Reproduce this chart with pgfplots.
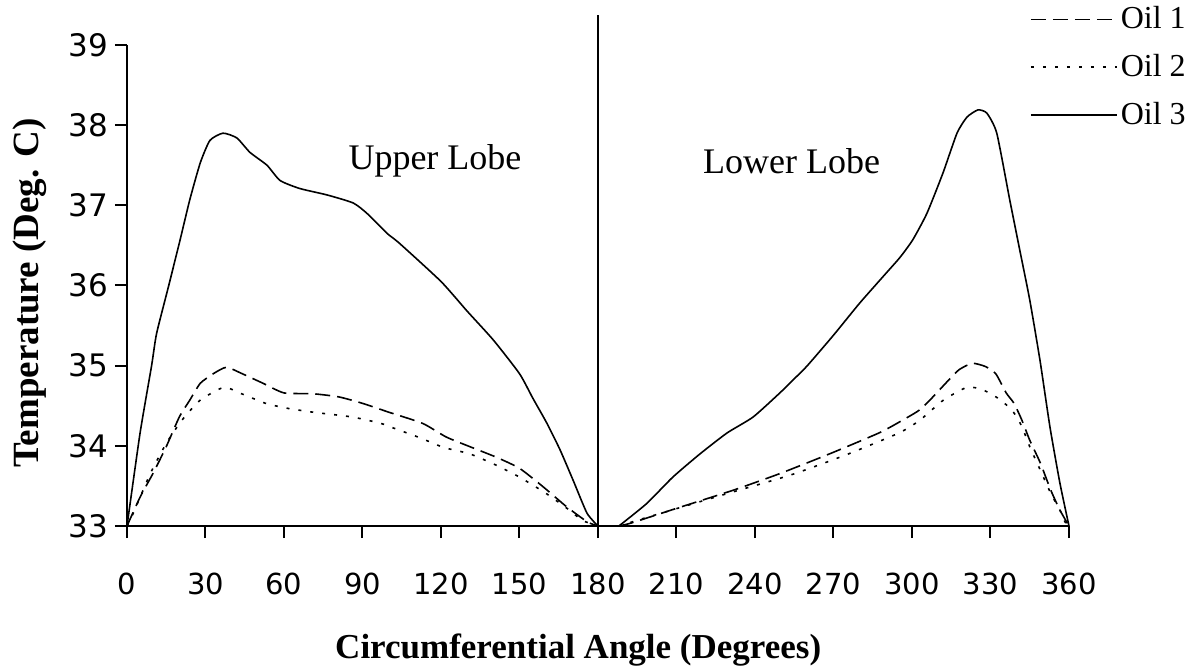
\documentclass[border=0pt]{standalone}
\usepackage{fontspec}
\setmainfont{Liberation Serif}
\newfontfamily\tickfont{DejaVu Sans}
\usepackage{pgfplots}
\pgfplotsset{compat=1.18}
\begin{document}
\begin{tikzpicture}
\begin{axis}[
  at={(0pt,0pt)}, anchor=south west,
  scale only axis, width=471pt, height=240.5pt,
  xmin=0, xmax=360, ymin=33, ymax=39,
  clip=false,
  /pgf/number format/assume math mode=true,
  axis x line*=bottom, axis y line*=left,
  axis line style={-, line width=1pt, black},
  xtick={0,30,...,360}, ytick={33,34,...,39},
  tick align=outside, major tick length=6pt,
  tick style={black, line width=1pt},
  yticklabel style={font=\tickfont\fontsize{15.5}{16}\selectfont, anchor=east},
  xticklabel style={font=\tickfont\fontsize{14.5}{16}\selectfont, anchor=north, yshift=-14pt},
  every axis y label/.style={at={(axis description cs:-0.103,0.485)}, rotate=90, anchor=center},
  every axis x label/.style={at={(axis description cs:0.479,-0.258)}, anchor=center},
  xlabel={\fontsize{17.5}{20}\selectfont\bfseries Circumferential Angle (Degrees)},
  ylabel={\fontsize{18.5}{20}\selectfont\bfseries Temperature (Deg. C)},
  legend style={draw=none, fill=none, at={(axis description cs:0.952,1.095)}, anchor=north west,
    font=\fontsize{16}{18}\selectfont, row sep=8.3pt, column sep=0pt,
    nodes={inner sep=1.5pt}},
  legend cell align=left,
  legend image code/.code={\draw[#1] (0pt,0pt) -- (43pt,0pt);},
  oilA/.style={black, line width=0.8pt, dash pattern=on 7.5pt off 3.5pt, smooth, tension=0.35},
  oilB/.style={black, line width=0.8pt, dash pattern=on 1.5pt off 4.5pt, smooth, tension=0.35},
  oilC/.style={black, line width=0.8pt, smooth, tension=0.35},
]
% Oil 1
\addplot[oilA] coordinates {
(0,33) (5,33.36) (10,33.66) (15,33.99) (20,34.36) (24,34.57) (28,34.78) (33,34.9) (38,34.98) (44,34.9) (52,34.78) (60,34.66) (71,34.65) (81,34.61) (90,34.53) (100,34.42) (113,34.28) (122,34.11) (131,33.99) (141,33.86) (150,33.72) (159,33.49) (168,33.24) (176,33.05) (180,33)
};
\addlegendentry{Oil 1}
% Oil 2
\addplot[oilB] coordinates {
(0,33) (2.4,33.16) (9,33.66) (15,34.03) (21,34.32) (28,34.57) (37,34.73) (43,34.66) (53,34.53) (61,34.47) (71,34.42) (86,34.36) (97,34.28) (102,34.22) (112,34.1) (121,33.98) (131,33.9) (141,33.76) (150,33.61) (160,33.41) (169,33.2) (174,33.07) (180,33)
};
\addlegendentry{Oil 2}
% Oil 3
\addplot[oilC] coordinates {
(0,33) (5,34.16) (9.4,35.0) (11.3,35.4) (15.8,35.98) (20.3,36.57) (24,37.07) (28,37.53) (31.7,37.81) (36.7,37.9) (42,37.84) (47,37.66) (53.5,37.5) (58.5,37.31) (66,37.21) (76.4,37.13) (86.4,37.03) (91.7,36.9) (99.4,36.65) (104,36.53) (120,36.05) (130,35.68) (140,35.32) (150,34.9) (155,34.6) (160.5,34.28) (165.5,33.95) (170.5,33.57) (175.8,33.16) (180,33)
};
\addlegendentry{Oil 3}
% lower lobe
\addplot[oilA, forget plot] coordinates {
(188,33) (193,33.04) (210,33.22) (232,33.45) (250,33.66) (270,33.92) (288,34.17) (298,34.35) (303,34.45) (308,34.61) (314,34.82) (318,34.95) (323,35.03) (328,34.99) (332,34.9) (336,34.66) (339,34.53) (342,34.32) (345,34.07) (349,33.79) (353,33.45) (356.5,33.2) (360,33)
};
\addplot[oilB, forget plot] coordinates {
(188,33) (199,33.11) (230,33.41) (254,33.64) (275,33.89) (295,34.16) (303,34.32) (312,34.57) (321,34.73) (327,34.7) (334,34.57) (339,34.41) (342,34.24) (345,33.99) (349,33.7) (353,33.41) (356.5,33.2) (358.5,33.05) (360,33)
};
\addplot[oilC, forget plot] coordinates {
(188,33) (198.6,33.28) (208.6,33.61) (219,33.9) (229.3,34.16) (239.3,34.36) (249.5,34.66) (254.5,34.82) (260,35.0) (270,35.38) (280,35.78) (290,36.15) (295.4,36.35) (300.3,36.57) (305.7,36.9) (311.8,37.4) (317.2,37.9) (321,38.1) (325.2,38.19) (328.6,38.15) (332.4,37.9) (337.4,37.06) (341.2,36.44) (345,35.82) (348.9,35.07) (352.7,34.24) (356.5,33.54) (360,33)
};
\addplot[black, line width=1pt, forget plot] coordinates {(180,33) (180,39.37)};
\node[font=\fontsize{18}{20}\selectfont] at (axis cs:117.7,37.55) {Upper Lobe};
\node[font=\fontsize{18}{20}\selectfont] at (axis cs:254,37.55) {Lower Lobe};
\end{axis}
\pgfresetboundingbox
\path (-63.5pt,-71.5pt) rectangle (536.5pt,263pt);
\end{tikzpicture}
\end{document}
